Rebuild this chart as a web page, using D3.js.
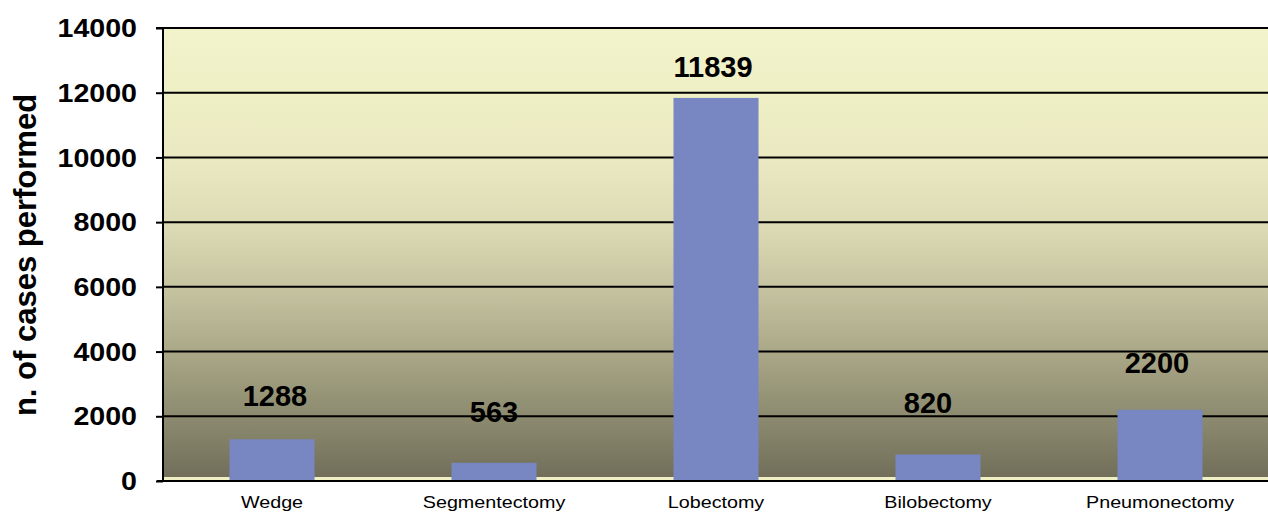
<!DOCTYPE html>
<html>
<head>
<meta charset="utf-8">
<script src="https://cdn.jsdelivr.net/npm/d3@7"></script>
<style>
  html, body { margin: 0; padding: 0; background: #ffffff; }
  svg { display: block; font-family: Arial, "Liberation Sans", sans-serif; }
</style>
</head>
<body>
<svg id="chart" width="1268" height="516"></svg>
<script>
// ---- data ----
const categories = ["Wedge", "Segmentectomy", "Lobectomy", "Bilobectomy", "Pneumonectomy"];
const casesPerformed = [1288, 563, 11839, 820, 2200];
const yTicks = [0, 2000, 4000, 6000, 8000, 10000, 12000, 14000];
const yAxisTitle = "n. of cases performed";

// ---- layout (label nudges as drawn in the original) ----
const labelGap = [33, 41, 21, 41, 37];
const labelDx = [3, 0, -3, -10, -3];

const svg = d3.select("#chart");
const plot = { left: 164, right: 1268, top: 28, bottom: 481 };

const y = d3.scaleLinear().domain([0, 14000]).range([plot.bottom, plot.top]);
const x = d3.scaleBand().domain(categories).range([161, 1271])
  .paddingInner(0.617).paddingOuter(0.3085);

// gradient background
const defs = svg.append("defs");
const grad = defs.append("linearGradient").attr("id", "bg")
  .attr("x1", 0).attr("y1", 0).attr("x2", 0).attr("y2", 1);
[
  [0, "#f3f3cb"], [0.15, "#efefc6"], [0.30, "#e9e8c0"], [0.45, "#dbd9b3"],
  [0.58, "#c4c29f"], [0.72, "#a9a786"], [0.86, "#8c8a6f"], [1, "#6f6d58"]
].forEach(([o, c]) => grad.append("stop").attr("offset", o).attr("stop-color", c));

svg.append("rect")
  .attr("x", plot.left).attr("y", plot.top)
  .attr("width", plot.right - plot.left).attr("height", plot.bottom - plot.top)
  .attr("fill", "url(#bg)");

// pale strip at baseline
svg.append("rect")
  .attr("x", plot.left).attr("y", y(0) - 4)
  .attr("width", plot.right - plot.left).attr("height", 3)
  .attr("fill", "#f1f0c4");

// gridlines
svg.append("g").selectAll("line").data(yTicks.filter(t => t > 0)).join("line")
  .attr("x1", plot.left).attr("x2", plot.right)
  .attr("y1", d => y(d)).attr("y2", d => y(d))
  .attr("stroke", "#000").attr("stroke-width", 2);

// bars
svg.append("g").selectAll("rect").data(categories).join("rect")
  .attr("x", d => x(d))
  .attr("width", x.bandwidth())
  .attr("y", (d, i) => y(casesPerformed[i]))
  .attr("height", (d, i) => y(0) - y(casesPerformed[i]))
  .attr("fill", "#7887c2");

// y axis
const yAxis = d3.axisLeft(y).tickValues(yTicks).tickFormat(d3.format("d"))
  .tickSize(7).tickPadding(19);
const gy = svg.append("g").attr("transform", `translate(163,0)`).call(yAxis);
gy.select(".domain").attr("stroke", "#000").attr("stroke-width", 2)
  .attr("d", `M-7,${plot.top}H0V${plot.bottom}`);
gy.selectAll(".tick line").attr("stroke", "#000").attr("stroke-width", 2);
gy.selectAll(".tick text")
  .attr("fill", "#000").attr("font-size", 26).attr("font-weight", "bold")
  .attr("font-family", "Arial, 'Liberation Sans', sans-serif")
  .attr("dy", "0.33em")
  .each(function () {
    const L = this.getComputedTextLength();
    d3.select(this).attr("textLength", L * 1.1).attr("lengthAdjust", "spacingAndGlyphs");
  });

// x axis
const xAxis = d3.axisBottom(x).tickSize(0).tickPadding(0);
const gx = svg.append("g").attr("transform", `translate(0,${plot.bottom})`).call(xAxis);
gx.select(".domain").attr("stroke", "#000").attr("stroke-width", 2)
  .attr("d", `M157,0H${plot.right}`);
gx.selectAll(".tick text")
  .attr("fill", "#000").attr("font-size", 17)
  .attr("font-family", "Arial, 'Liberation Sans', sans-serif")
  .attr("y", 27).attr("dy", 0)
  .each(function () {
    const L = this.getComputedTextLength();
    d3.select(this).attr("textLength", L * 1.16).attr("lengthAdjust", "spacingAndGlyphs");
  });

// value labels
svg.append("g").selectAll("text").data(categories).join("text")
  .attr("x", (d, i) => x(d) + x.bandwidth() / 2 + labelDx[i])
  .attr("y", (d, i) => y(casesPerformed[i]) - labelGap[i])
  .attr("text-anchor", "middle")
  .attr("font-size", 29).attr("font-weight", "bold").attr("fill", "#000")
  .text((d, i) => casesPerformed[i]);

// y axis title
svg.append("text")
  .attr("transform", `translate(36,255) rotate(-90)`)
  .attr("text-anchor", "middle")
  .attr("font-size", 31).attr("font-weight", "bold").attr("fill", "#000")
  .text(yAxisTitle);
</script>
</body>
</html>
